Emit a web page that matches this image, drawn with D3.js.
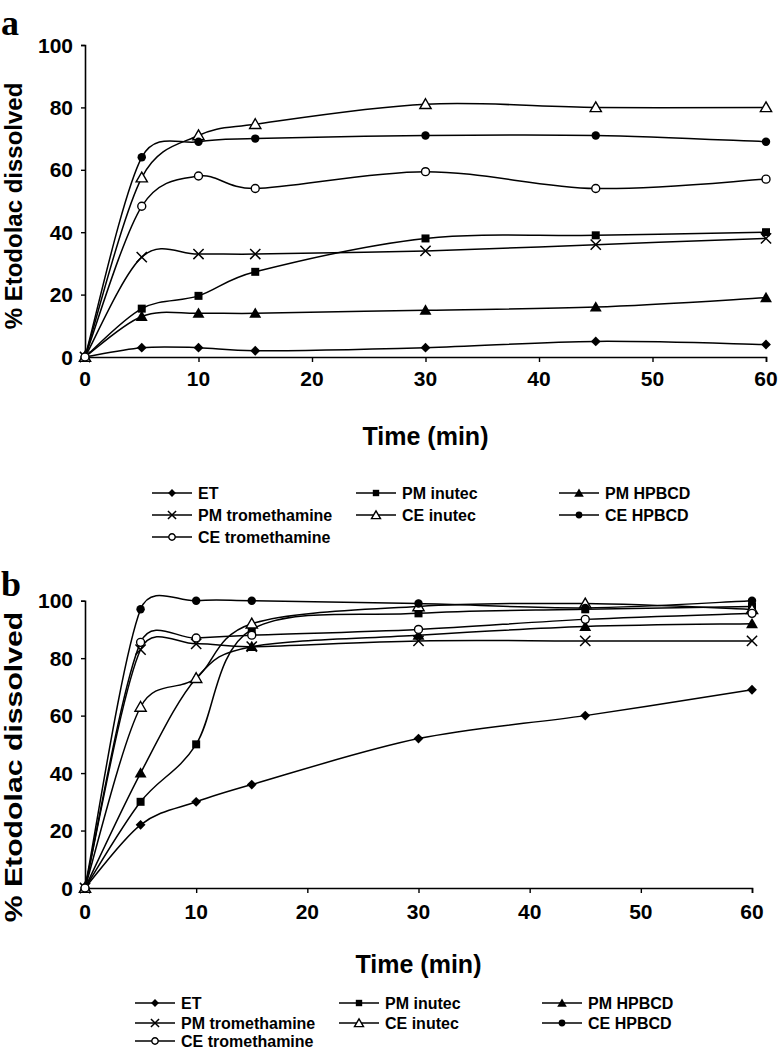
<!DOCTYPE html>
<html><head><meta charset="utf-8">
<script src="https://cdn.jsdelivr.net/npm/d3@7"></script>
<style>
html,body{margin:0;padding:0;background:#fff;}
svg{display:block;}
text{font-family:"Liberation Sans",Arial,sans-serif;font-weight:bold;fill:#000;}
</style></head>
<body>
<svg id="chart" width="780" height="1050"></svg>
<script>
// ---- data ----
const timePoints = [0, 5, 10, 15, 30, 45, 60];
const seriesNames = ["ET", "PM inutec", "PM HPBCD", "PM tromethamine", "CE inutec", "CE HPBCD", "CE tromethamine"];
const xTicks = [0, 10, 20, 30, 40, 50, 60];
const yTicks = [0, 20, 40, 60, 80, 100];

// Panel a
const a_ET      = [0, 3, 3, 2, 3, 5, 4];
const a_PMinu   = [0, 15.5, 19.6, 27.3, 38, 39, 40];
const a_PMhp    = [0, 13, 14, 14, 15, 16, 19];
const a_PMtro   = [0, 32, 33, 33, 34, 36, 38];
const a_CEinu   = [0, 57.5, 71, 74.6, 81, 80, 80];
const a_CEhp    = [0, 64, 69, 70, 71, 71, 69];
const a_CEtro   = [0, 48.3, 58, 54, 59.4, 54, 57];

// Panel b
const b_ET      = [0, 22, 30, 36, 52, 60, 69];
const b_PMinu   = [0, 30, 50, 90, 95.6, 97, 98];
const b_PMhp    = [0, 40, 73, 84, 88, 91, 92];
const b_PMtro   = [0, 83, 85, 84, 86, 86, 86];
const b_CEinu   = [0, 63, 73, 92, 98, 99, 97];
const b_CEhp    = [0, 97, 100, 100, 99, 97.5, 100];
const b_CEtro   = [0, 85.5, 87, 88, 90, 93.5, 95.6];

const markerTypes = ["diamond", "square", "triangle", "times", "triangleOpen", "circle", "circleOpen"];

const panels = [
  {label: "a", series: [a_ET, a_PMinu, a_PMhp, a_PMtro, a_CEinu, a_CEhp, a_CEtro],
   x0: 85, x1: 766, yTop: 45, yBot: 357, labelY: 35,
   tickLabelY: 386, titleY: 445, legendRows: [493, 515, 537], legendCols: [152, 356, 559],
   yTitleScale: 1, yTitleCenter: 206},
  {label: "b", series: [b_ET, b_PMinu, b_PMhp, b_PMtro, b_CEinu, b_CEhp, b_CEtro],
   x0: 85, x1: 752, yTop: 600.7, yBot: 888, labelY: 596,
   tickLabelY: 919, titleY: 973, legendRows: [1003, 1023, 1041], legendCols: [135, 339, 542],
   yTitleScale: 1.26, yTitleCenter: 767}
];

const svg = d3.select("#chart");

// Spreadsheet-style smoothed line: Bezier segments, tangent = (next - prev)/6,
// limited to half of the adjacent segment length.
function smoothPath(pts) {
  const p = d3.path();
  const n = pts.length;
  const tan = pts.map((pt, i) => {
    const a = pts[Math.max(0, i - 1)], b = pts[Math.min(n - 1, i + 1)];
    return [(b[0] - a[0]) / 6, (b[1] - a[1]) / 6];
  });
  const capped = (t, segLen) => {
    const L = Math.hypot(t[0], t[1]), m = 0.5 * segLen;
    return L > m && L > 0 ? [t[0] * m / L, t[1] * m / L] : t;
  };
  p.moveTo(pts[0][0], pts[0][1]);
  for (let i = 0; i < n - 1; i++) {
    const P1 = pts[i], P2 = pts[i + 1];
    const seg = Math.hypot(P2[0] - P1[0], P2[1] - P1[1]);
    const t1 = capped(tan[i], seg), t2 = capped(tan[i + 1], seg);
    p.bezierCurveTo(P1[0] + t1[0], P1[1] + t1[1], P2[0] - t2[0], P2[1] - t2[1], P2[0], P2[1]);
  }
  return p.toString();
}

function drawMarker(g, type, x, y, s) {
  if (type === "diamond") {
    g.append("path").attr("d", d3.symbol().type(d3.symbolSquare).size(48 * s * s)())
      .attr("transform", `translate(${x},${y}) rotate(45)`).attr("fill", "#000");
  } else if (type === "square") {
    g.append("path").attr("d", d3.symbol().type(d3.symbolSquare).size(64 * s * s)())
      .attr("transform", `translate(${x},${y})`).attr("fill", "#000");
  } else if (type === "triangle") {
    g.append("path").attr("d", d3.symbol().type(d3.symbolTriangle).size(62 * s * s)())
      .attr("transform", `translate(${x},${y + 1})`).attr("fill", "#000");
  } else if (type === "triangleOpen") {
    g.append("path").attr("d", d3.symbol().type(d3.symbolTriangle).size(55 * s * s)())
      .attr("transform", `translate(${x},${y + 1})`).attr("fill", "#fff").attr("stroke", "#000").attr("stroke-width", 1.4);
  } else if (type === "circle") {
    g.append("path").attr("d", d3.symbol().type(d3.symbolCircle).size(56 * s * s)())
      .attr("transform", `translate(${x},${y})`).attr("fill", "#000");
  } else if (type === "circleOpen") {
    g.append("path").attr("d", d3.symbol().type(d3.symbolCircle).size(50 * s * s)())
      .attr("transform", `translate(${x},${y})`).attr("fill", "#fff").attr("stroke", "#000").attr("stroke-width", 1.4);
  } else if (type === "times") {
    g.append("path").attr("d", d3.symbol().type(d3.symbolTimes).size(70 * s * s)())
      .attr("transform", `translate(${x},${y})`).attr("fill", "none").attr("stroke", "#000").attr("stroke-width", 1.5);
  }
}

panels.forEach(P => {
  const g = svg.append("g");
  const x = d3.scaleLinear().domain([0, 60]).range([P.x0, P.x1]);
  const y = d3.scaleLinear().domain([0, 100]).range([P.yBot, P.yTop]);

  // panel letter
  g.append("text").attr("x", 1).attr("y", P.labelY)
    .style("font-family", "'Liberation Serif','Times New Roman',serif")
    .style("font-size", "36px").text(P.label);

  // axes
  const xAxis = d3.axisBottom(x).tickValues(xTicks).tickSize(5).tickFormat("");
  const yAxis = d3.axisLeft(y).tickValues(yTicks).tickSize(4).tickFormat("");
  const gx = g.append("g").attr("transform", `translate(0,${P.yBot})`).call(xAxis);
  const gy = g.append("g").attr("transform", `translate(${P.x0},0)`).call(yAxis);
  [gx, gy].forEach(ax => {
    ax.select(".domain").attr("stroke", "#000").attr("stroke-width", 1.6);
    ax.selectAll(".tick line").attr("stroke", "#000").attr("stroke-width", 1.4);
  });

  // tick labels
  g.selectAll(".xl").data(xTicks).enter().append("text")
    .attr("x", d => x(d)).attr("y", P.tickLabelY).attr("text-anchor", "middle")
    .style("font-size", "21px").text(d => d);
  g.selectAll(".yl").data(yTicks).enter().append("text")
    .attr("x", P.x0 - 12).attr("y", d => y(d) + 7.5).attr("text-anchor", "end")
    .style("font-size", "21px").text(d => d);

  // axis titles
  g.append("text").attr("x", (P.x0 + P.x1) / 2).attr("y", P.titleY).attr("text-anchor", "middle")
    .style("font-size", "25px").text("Time (min)");
  g.append("text")
    .attr("transform", `translate(22,${P.yTitleCenter}) rotate(-90) scale(${P.yTitleScale},1)`)
    .attr("text-anchor", "middle").style("font-size", "24px").text("% Etodolac dissolved");

  // lines
  P.series.forEach((vals) => {
    const pts = timePoints.map((t, k) => [x(t), y(vals[k])]);
    g.append("path").attr("d", smoothPath(pts))
      .attr("fill", "none").attr("stroke", "#000").attr("stroke-width", 1.5);
  });
  // markers
  P.series.forEach((vals, i) => {
    timePoints.forEach((t, k) => drawMarker(g, markerTypes[i], x(t), y(vals[k]), 1));
  });

  // legend
  seriesNames.forEach((name, i) => {
    const col = i % 3, row = Math.floor(i / 3);
    const lx = P.legendCols[col], ly = P.legendRows[row];
    g.append("line").attr("x1", lx).attr("x2", lx + 40).attr("y1", ly).attr("y2", ly)
      .attr("stroke", "#000").attr("stroke-width", 1.5);
    drawMarker(g, markerTypes[i], lx + 20, ly, 0.8);
    g.append("text").attr("x", lx + 46).attr("y", ly + 6).style("font-size", "16px").text(name);
  });
});
</script>
</body></html>
